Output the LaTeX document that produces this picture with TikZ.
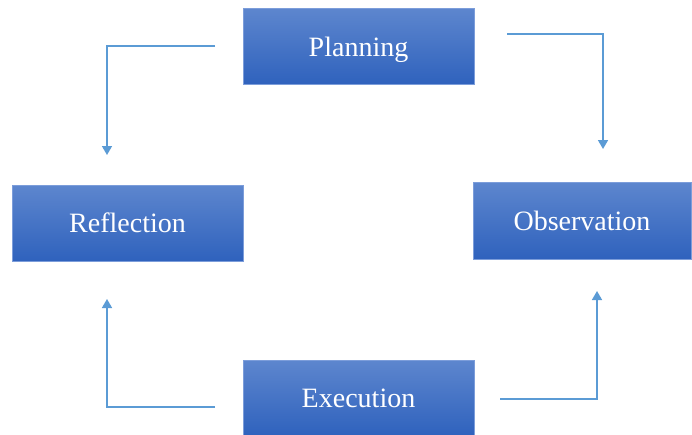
\documentclass[tikz,border=0pt]{standalone}
\usepackage{fontspec}
\setmainfont{Liberation Serif}
\usetikzlibrary{arrows.meta}
\definecolor{boxtop}{HTML}{5D86CE}
\definecolor{boxbot}{HTML}{2F62BD}
\definecolor{boxedge}{HTML}{7C9DDA}
\definecolor{linkblue}{HTML}{5B9BD5}
\tikzset{
  stagebox/.style={rectangle, draw=boxedge, line width=0.8pt, top color=boxtop, bottom color=boxbot,
    text=white, font=\fontsize{28}{32}\selectfont, inner sep=0pt, text height=19pt, text depth=0pt},
  link/.style={draw=linkblue, line width=1.6pt, -{Triangle[width=10pt,length=9pt]}}
}
\begin{document}
\begin{tikzpicture}[x=1pt,y=-1pt]
\useasboundingbox (0,0) rectangle (692,434);
\node[stagebox, minimum width=231pt, minimum height=76pt] (plan) at (358.5,46.5) {Planning};
\node[stagebox, minimum width=231pt, minimum height=76pt] (refl) at (127.5,223) {Reflection};
\node[stagebox, minimum width=218pt, minimum height=77pt] (obs) at (582,220.5) {Observation};
\node[stagebox, minimum width=231pt, minimum height=76pt] (exec) at (358.5,398) {Execution};
% free ends
\coordinate (pl) at (215,46);
\coordinate (rt) at (107,155);
\coordinate (pr) at (507,34);
\coordinate (ot) at (603,149);
\coordinate (er) at (500,399);
\coordinate (ob) at (597,291);
\coordinate (el) at (215,407);
\coordinate (rb) at (107,299);
\draw[link] (pl) -| (rt);
\draw[link] (pr) -| (ot);
\draw[link] (er) -| (ob);
\draw[link] (el) -| (rb);
\end{tikzpicture}
\end{document}
